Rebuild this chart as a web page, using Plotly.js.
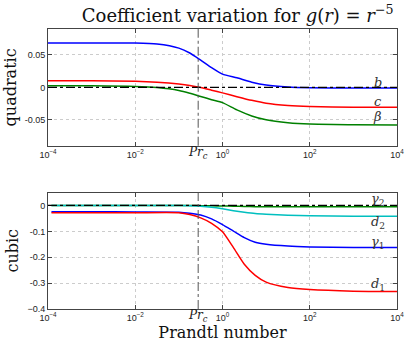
<html><head>
<script src="https://cdn.plot.ly/plotly-3.0.1.min.js"></script>
<style>
  body { margin: 0; padding: 0; background: white; }
  #chart { width: 407px; height: 342px; }
</style>
</head>
<body>
<div id="chart"></div>
<script>
// Prandtl numbers sampled for each panel
const prTop = [1e-4, 1e-3, 1e-2, 0.0316, 0.1, 0.178, 0.316, 0.562, 1, 2.14, 4.68, 10, 31.6, 100, 1000, 1e4];
const prBot = [1.2e-4, 1e-3, 1e-2, 0.1, 0.178, 0.316, 0.562, 1, 1.78, 3.16, 5.62, 10, 31.6, 100, 1000, 1e4];
const prCrit = 0.277;

// quadratic coefficients
const bVals    = [0.0685, 0.0685, 0.0683, 0.0668, 0.0605, 0.0530, 0.0420, 0.0305, 0.0205, 0.0147, 0.0080, 0.0035, 0.0005, -0.0006, -0.001, -0.001];
const cVals    = [0.0103, 0.0102, 0.0095, 0.0080, 0.0052, 0.0030, -0.0002, -0.0043, -0.0085, -0.0143, -0.0200, -0.0245, -0.0280, -0.0296, -0.0305, -0.0308];
const betaVals = [0.0026, 0.0024, 0.0015, -0.0003, -0.0048, -0.0090, -0.0140, -0.0190, -0.0235, -0.0347, -0.0440, -0.0500, -0.0545, -0.0566, -0.0575, -0.0580];

// cubic coefficients
const d1Vals = [-0.028, -0.028, -0.028, -0.028, -0.035, -0.048, -0.069, -0.102, -0.163, -0.227, -0.270, -0.296, -0.317, -0.325, -0.331, -0.332];
const g1Vals = [-0.024, -0.024, -0.025, -0.026, -0.030, -0.037, -0.052, -0.074, -0.099, -0.124, -0.142, -0.150, -0.157, -0.160, -0.162, -0.162];
const d2Vals = [0, 0, 0, 0, -0.001, -0.003, -0.007, -0.013, -0.020, -0.026, -0.031, -0.034, -0.038, -0.040, -0.042, -0.042];
const g2Vals = [0, 0, 0, 0, 0, -0.001, -0.0015, -0.002, -0.003, -0.004, -0.0045, -0.005, -0.005, -0.005, -0.005, -0.005];

const xTickVals = [1e-4, 1e-2, 1, 1e2, 1e4];
const xTickText = ['10<sup>\u22124</sup>', '10<sup>\u22122</sup>', '10<sup>0</sup>', '10<sup>2</sup>', '10<sup>4</sup>'];

const serif = 'DejaVu Serif, Liberation Serif, serif';
const sans = 'Liberation Sans, Arial, sans-serif';

function line(x, y, color, xa, ya) {
  return { x: x, y: y, xaxis: xa, yaxis: ya, type: 'scatter', mode: 'lines',
           line: { color: color, width: 1.5, shape: 'spline', smoothing: 0.6 },
           hoverinfo: 'skip', showlegend: false };
}

const data = [
  line(prTop, bVals, '#0000ff', 'x', 'y'),
  line(prTop, cVals, '#ff0000', 'x', 'y'),
  line(prTop, betaVals, '#008000', 'x', 'y'),
  line(prBot, g2Vals, '#008000', 'x2', 'y2'),
  line(prBot, d2Vals, '#00bfbf', 'x2', 'y2'),
  line(prBot, g1Vals, '#0000ff', 'x2', 'y2'),
  line(prBot, d1Vals, '#ff0000', 'x2', 'y2')
];

const axisCommon = {
  ticks: 'inside', ticklen: 4, tickcolor: '#444', showline: true, linecolor: '#444', linewidth: 1,
  mirror: 'ticks', showgrid: true, gridcolor: '#cccccc', griddash: 'dot', gridwidth: 1,
  zeroline: false, automargin: false, tickfont: { family: sans, size: 9, color: '#222' }
};
const xCommon = Object.assign({}, axisCommon, {
  type: 'log', range: [-4, 4], tickvals: xTickVals, ticktext: xTickText
});
const titleFont = { family: serif, size: 16, color: '#111' };

const layout = {
  width: 407, height: 342,
  margin: { l: 48, r: 10, t: 29, b: 33 },
  paper_bgcolor: 'white', plot_bgcolor: 'white',
  title: { text: 'Coefficient variation for <i>g</i>(<i>r</i>) = <i>r</i><sup>\u22125</sup>',
           font: { family: serif, size: 18, color: '#111' }, x: 0.584, xanchor: 'center', y: 0.955, yanchor: 'middle' },
  xaxis: Object.assign({}, xCommon, { anchor: 'y', domain: [0, 1] }),
  yaxis: Object.assign({}, axisCommon, { anchor: 'x', domain: [0.583, 1], range: [-0.09, 0.09],
           tickvals: [-0.05, 0, 0.05], ticktext: ['-0.05', '0', '0.05'],
           title: { text: 'quadratic', font: titleFont, standoff: 4 } }),
  xaxis2: Object.assign({}, xCommon, { anchor: 'y2', domain: [0, 1],
           title: { text: 'Prandtl number', font: titleFont, standoff: 4 } }),
  yaxis2: Object.assign({}, axisCommon, { anchor: 'x2', domain: [0, 0.416], range: [-0.4, 0.05],
           tickvals: [-0.4, -0.3, -0.2, -0.1, 0], ticktext: ['\u22120.4', '-0.3', '-0.2', '-0.1', '0'],
           title: { text: 'cubic', font: titleFont, standoff: 4 } }),
  shapes: [
    { type: 'line', xref: 'x domain', yref: 'y', x0: 0, x1: 1, y0: 0, y1: 0, line: { color: '#000', width: 1.2, dash: 'dashdot' } },
    { type: 'line', xref: 'x2 domain', yref: 'y2', x0: 0, x1: 1, y0: 0, y1: 0, line: { color: '#000', width: 1.2, dash: 'dashdot' } },
    { type: 'line', xref: 'x', yref: 'y domain', x0: prCrit, x1: prCrit, y0: 0, y1: 1, line: { color: '#555', width: 1, dash: 'dashdot' } },
    { type: 'line', xref: 'x2', yref: 'y2 domain', x0: prCrit, x1: prCrit, y0: 0, y1: 1, line: { color: '#555', width: 1, dash: 'dashdot' } }
  ],
  annotations: []
};

const labelFont = { family: serif, size: 13, color: '#333' };
const curveLabels = [
  ['x', 'y', 0.008, '<i>b</i>'],
  ['x', 'y', -0.021, '<i>c</i>'],
  ['x', 'y', -0.045, '<i>\u03b2</i>'],
  ['x2', 'y2', 0.024, '<i>\u03b3</i><sub>2</sub>'],
  ['x2', 'y2', -0.064, '<i>d</i><sub>2</sub>'],
  ['x2', 'y2', -0.145, '<i>\u03b3</i><sub>1</sub>'],
  ['x2', 'y2', -0.306, '<i>d</i><sub>1</sub>']
];
curveLabels.forEach(function (l) {
  layout.annotations.push({ xref: l[0], yref: l[1], x: Math.log10(3600), y: l[2], text: l[3],
    showarrow: false, font: labelFont, xanchor: 'center', yanchor: 'middle' });
});
[['x', 'y domain'], ['x2', 'y2 domain']].forEach(function (r) {
  layout.annotations.push({ xref: r[0], yref: r[1], x: Math.log10(prCrit), y: 0, yshift: 3,
    text: '<i>Pr</i><sub><i>c</i></sub>', showarrow: false, font: { family: serif, size: 12, color: '#222' },
    xanchor: 'center', yanchor: 'top' });
});

Plotly.newPlot('chart', data, layout, { displayModeBar: false, staticPlot: true });
</script>
</body></html>
